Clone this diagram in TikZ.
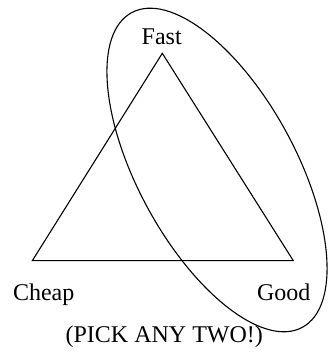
\documentclass[tikz,border=0pt]{standalone}
\usepackage{fontspec}
\setmainfont{Liberation Serif}
\begin{document}
\begin{tikzpicture}[x=1pt,y=1pt,
  edge/.style={line width=1.1pt,line join=miter},
  lbl/.style={anchor=base,inner sep=0pt,font=\fontsize{24}{28}\selectfont}]
\useasboundingbox (0,0) rectangle (327,358);
\coordinate (top) at (162.3,304.7);
\coordinate (left) at (32.3,97.3);
\coordinate (right) at (293.3,97.3);
\coordinate (ec) at (217,188);
\draw[edge] (top) -- (left) -- (right) -- cycle;
\draw[edge,rotate around={-61.5:(ec)}] (ec) ellipse (179 and 79);
\node[lbl] (fast) at (161.7,313.7) {Fast};
\node[lbl] (cheap) at (43.7,57) {Cheap};
\node[lbl] (good) at (283.8,57) {Good};
\node[lbl] (pick) at (164.3,15) {(PICK ANY TWO!)};
\end{tikzpicture}
\end{document}
